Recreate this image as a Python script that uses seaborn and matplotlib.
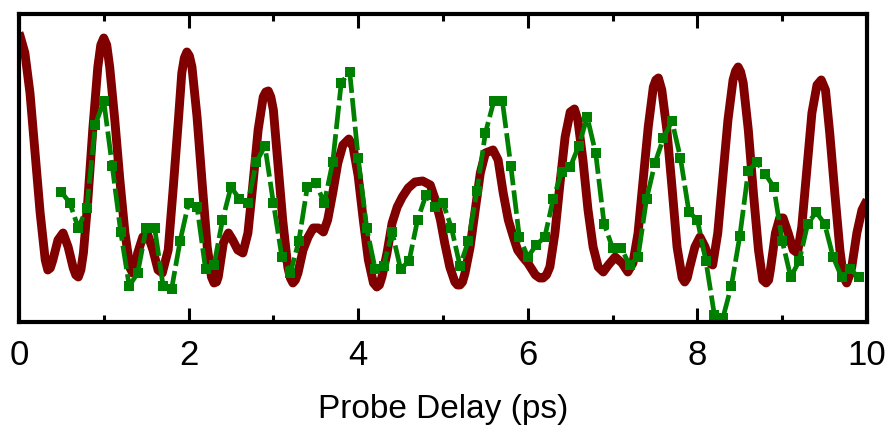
import numpy as np
import matplotlib
matplotlib.use("Agg")
import matplotlib.pyplot as plt
from matplotlib.ticker import MultipleLocator
import seaborn as sns

# simulated signal (smooth curve), probe delay in ps vs signal (a.u.)
red_t = [0.00, 0.01, 0.07, 0.13, 0.19, 0.25, 0.31, 0.34, 0.37, 0.40, 0.46, 0.52, 0.58, 0.64, 0.67,
         0.70, 0.73, 0.76, 0.81, 0.87, 0.93, 0.965, 1.00, 1.035, 1.07, 1.13, 1.19, 1.25, 1.31, 1.34,
         1.37, 1.40, 1.46, 1.52, 1.58, 1.64, 1.69, 1.76, 1.82, 1.88, 1.92, 1.95, 1.98, 2.01, 2.04,
         2.10, 2.16, 2.22, 2.27, 2.30, 2.33, 2.35, 2.41, 2.47, 2.52, 2.58, 2.64, 2.70, 2.76, 2.82,
         2.88, 2.91, 2.94, 2.97, 3.00, 3.05, 3.11, 3.17, 3.20, 3.23, 3.26, 3.29, 3.35, 3.41, 3.47,
         3.53, 3.59, 3.64, 3.70, 3.76, 3.82, 3.89, 3.94, 4.00, 4.06, 4.12, 4.18, 4.22, 4.25, 4.28,
         4.34, 4.40, 4.46, 4.52, 4.59, 4.67, 4.76, 4.85, 4.91, 4.97, 5.02, 5.08, 5.14, 5.17, 5.20,
         5.23, 5.26, 5.32, 5.38, 5.44, 5.50, 5.59, 5.65, 5.71, 5.77, 5.83, 5.88, 5.94, 6.00, 6.03,
         6.09, 6.14, 6.18, 6.22, 6.26, 6.32, 6.38, 6.44, 6.50, 6.55, 6.59, 6.65, 6.71, 6.77, 6.83,
         6.89, 6.95, 7.03, 7.11, 7.18, 7.24, 7.30, 7.36, 7.42, 7.48, 7.51, 7.54, 7.58, 7.64, 7.70,
         7.76, 7.82, 7.85, 7.88, 7.91, 7.97, 8.03, 8.09, 8.15, 8.18, 8.24, 8.30, 8.36, 8.42, 8.45,
         8.48, 8.51, 8.54, 8.60, 8.66, 8.72, 8.77, 8.81, 8.84, 8.86, 8.92, 8.97, 9.01, 9.07, 9.13,
         9.18, 9.23, 9.29, 9.35, 9.41, 9.46, 9.51, 9.56, 9.62, 9.68, 9.72, 9.76, 9.80, 9.82, 9.88,
         9.94, 10.00]
red_s = [289, 287, 269, 229, 169, 109, 62, 52, 54, 62, 82, 89, 75, 54, 47,
         45, 52, 69, 119, 192, 255, 277, 284, 277, 255, 202, 142, 89, 54, 49,
         54, 69, 85, 87, 72, 52, 49, 72, 135, 202, 249, 264, 270, 266, 255,
         205, 139, 75, 45, 39, 40, 45, 79, 89, 82, 72, 69, 89, 139, 192,
         225, 230, 231, 225, 212, 162, 102, 55, 44, 39, 42, 49, 72, 85, 94,
         94, 90, 102, 129, 159, 177, 183, 175, 146, 102, 62, 39, 35, 37, 45,
         69, 99, 115, 125, 134, 140, 141, 137, 122, 102, 79, 55, 40, 37, 37,
         40, 49, 75, 112, 149, 169, 172, 162, 129, 102, 85, 72, 65, 59, 55,
         47, 44, 44, 47, 55, 89, 139, 185, 210, 213, 202, 162, 112, 75, 55,
         50, 57, 65, 59, 50, 59, 89, 142, 195, 235, 242, 244, 232, 192, 135,
         75, 44, 40, 44, 55, 75, 85, 75, 59, 57, 89, 145, 202, 242, 251,
         255, 250, 239, 192, 129, 72, 42, 39, 42, 52, 89, 104, 104, 89, 72,
         69, 95, 152, 209, 237, 242, 232, 189, 129, 72, 46, 39, 48, 55, 89,
         112, 122]

# measured signal (squares), sampled every 0.1 ps from 0.5 to 9.9 ps
green_t = np.round(np.linspace(0.5, 9.9, 95), 1)
green_s = [130, 119, 94, 114, 197, 221, 156, 90, 36, 49,
           94, 94, 36, 33, 81, 119, 115, 53, 57, 102,
           135, 123, 119, 160, 176, 119, 65, 49, 81, 135,
           139, 119, 160, 239, 250, 164, 94, 53, 56, 90,
           53, 61, 102, 127, 115, 119, 94, 56, 81, 131,
           189, 221, 221, 156, 85, 65, 77, 85, 123, 150,
           155, 176, 205, 169, 98, 74, 74, 57, 65, 123,
           159, 184, 201, 164, 110, 102, 61, 7, 4, 36,
           86, 151, 160, 148, 135, 81, 45, 61, 98, 110,
           98, 65, 45, 53, 45]

sns.set_style("white")
plt.rcParams['font.family'] = ['Liberation Sans', 'DejaVu Sans']

fig = plt.figure(figsize=(8.9, 4.33), dpi=100)
ax = fig.add_axes([0.0213, 0.2564, 0.9529, 0.7113])

sns.lineplot(x=red_t, y=red_s, color='#800000', lw=6.4, sort=False,
             solid_joinstyle='round', solid_capstyle='butt', ax=ax)
sns.lineplot(x=green_t, y=green_s, color='#008000', lw=3.4, sort=False,
             linestyle=(0, (5, 1.1)), marker='s', markersize=7,
             markeredgewidth=0, ax=ax)

ax.set_xlim(0, 10)
ax.set_ylim(0, 308)
ax.set_yticks([])
ax.xaxis.set_major_locator(MultipleLocator(2))
ax.xaxis.set_minor_locator(MultipleLocator(1))
ax.tick_params(axis='x', which='both', direction='in', top=True, bottom=True,
               width=2.2, colors='black', labelsize=25, pad=12)
ax.tick_params(axis='x', which='major', length=10)
ax.tick_params(axis='x', which='minor', length=5)
for sp in ax.spines.values():
    sp.set_visible(True)
    sp.set_linewidth(3)
    sp.set_color('black')
ax.set_xlabel('Probe Delay (ps)', fontsize=24, color='black', labelpad=16)
ax.set_ylabel('')

fig.savefig('out.png', dpi=100)
